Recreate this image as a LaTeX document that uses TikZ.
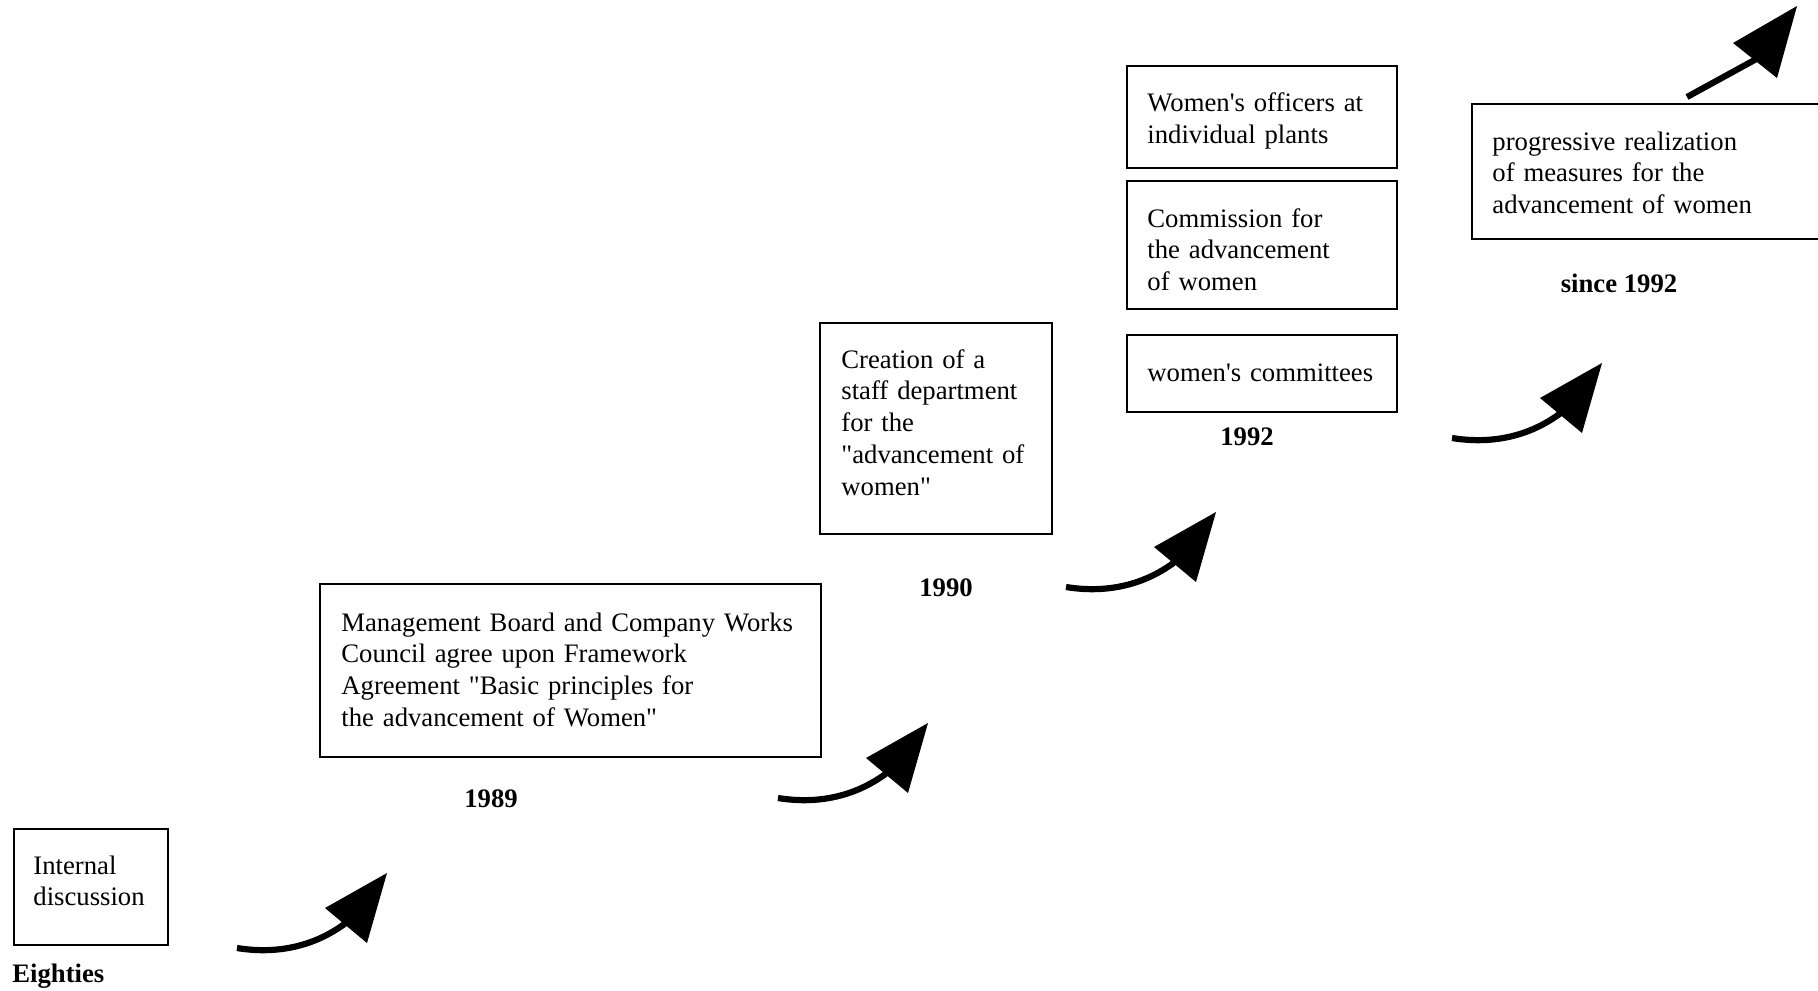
\documentclass[tikz,border=0pt]{standalone}
\usepackage{fontspec}
\newfontfamily\tnr{Liberation Serif}
\begin{document}
\begin{tikzpicture}[x=0.5pt, y=-0.5pt,
  box/.style={draw, line width=1pt, anchor=north west, inner sep=0pt, outer sep=0pt},
  txt/.style={anchor=base west, inner sep=0pt, align=left, text width=#1, font=\tnr\fontsize{13.35}{15.9}\selectfont},
  yr/.style={anchor=base, inner sep=0pt, font=\tnr\bfseries\fontsize{13.35}{15.9}\selectfont},
  shaft/.style={line width=3.1pt},
  head/.style={fill=black},
  curvearrow/.pic={
    \draw[shaft] (0,0) .. controls (43,7) and (83,-3) .. (115,-30);
    \fill[head] (150,-75) -- (88,-40) -- (130,-5) -- cycle;
  }]
\useasboundingbox (0,0) rectangle (1818,990);
\clip (0,0) rectangle (1818,990);

% boxes
\node[box, minimum width=77pt, minimum height=58pt] (b0) at (14,829) {};
\node[box, minimum width=250.5pt, minimum height=86.5pt] (b1) at (320,584) {};
\node[box, minimum width=116pt, minimum height=105.5pt] (b2) at (820,323) {};
\node[box, minimum width=135pt, minimum height=51pt] (b3a) at (1127,66) {};
\node[box, minimum width=135pt, minimum height=64pt] (b3b) at (1127,181) {};
\node[box, minimum width=135pt, minimum height=38.5pt] (b3c) at (1127,335) {};
\node[box, minimum width=190pt, minimum height=67.5pt] (b4) at (1472,104) {};

% texts
\node[txt=80pt] (t0) at (33,874) {Internal\\discussion};
\node[yr, anchor=base west] (y0) at (12,982) {Eighties};
\node[txt=240pt] (t1) at (341,631) {Management Board and Company Works\\Council agree upon Framework\\Agreement "Basic principles for\\the advancement of Women"};
\node[yr] (y1) at (491,807) {1989};
\node[txt=110pt] (t2) at (841,368) {Creation of a\\staff department\\for the\\"advancement of\\women"};
\node[yr] (y2) at (946,596) {1990};
\node[txt=130pt] (t3a) at (1147,112) {Women's officers at\\individual plants};
\node[txt=130pt] (t3b) at (1147,227) {Commission for\\the advancement\\of women};
\node[txt=130pt] (t3c) at (1147,381) {women's committees};
\node[yr] (y3) at (1247,445) {1992};
\node[txt=150pt] (t4) at (1492,150) {progressive realization\\of measures for the\\advancement of women};
\node[yr] (y4) at (1619,292) {since 1992};

% arrows
\pic (a1) at (237,948) {curvearrow};
\pic (a2) at (778,798) {curvearrow};
\pic (a3) at (1066,587) {curvearrow};
\pic (a4) at (1452,438) {curvearrow};
\coordinate (s5) at (1687,97);
\coordinate (e5) at (1760,57);
\draw[shaft] (s5) -- (e5);
\fill[head] (1797,6) -- (1733,43) -- (1777,78) -- cycle;
\end{tikzpicture}
\end{document}
